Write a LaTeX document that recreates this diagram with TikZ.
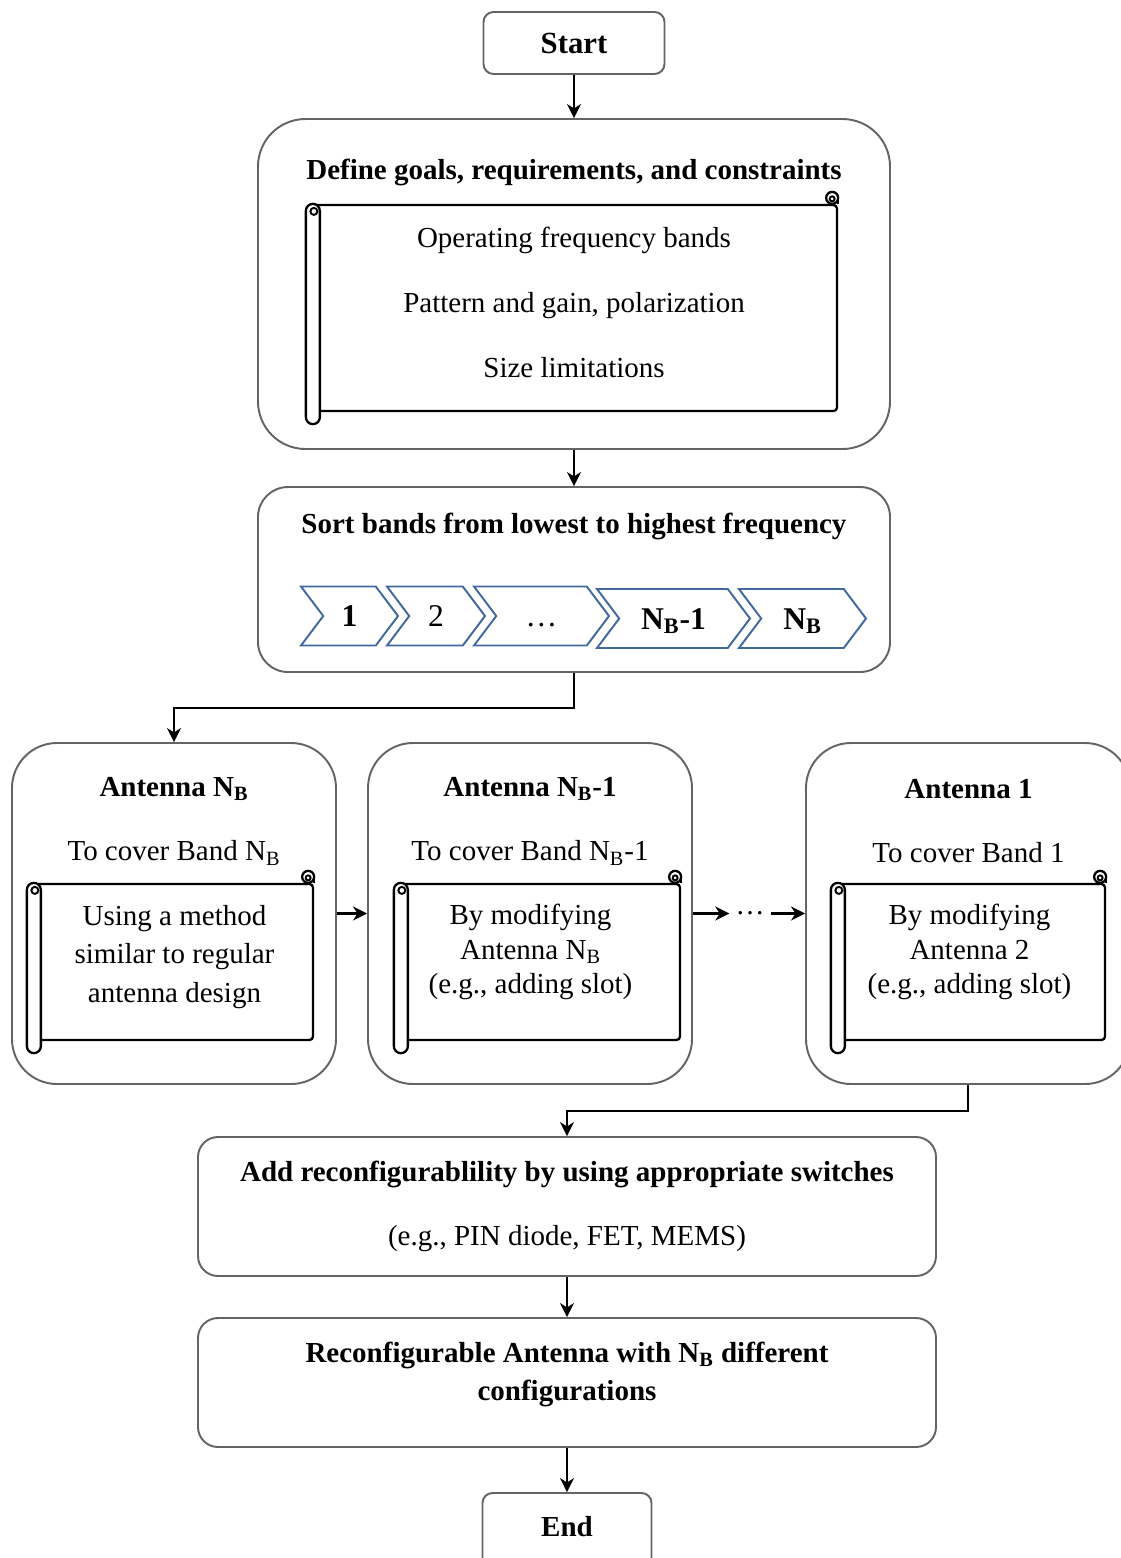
\documentclass[tikz,border=0pt]{standalone}
\usepackage{fontspec}
\setmainfont{Liberation Serif}
\usetikzlibrary{shapes.symbols,arrows.meta,calc}
\definecolor{boxgray}{RGB}{100,100,100}
\definecolor{chevblue}{RGB}{65,105,158}

\tikzset{
  bigbox/.style={draw=boxgray, line width=1.1pt, fill=white, rounded corners=#1},
  scrollbody/.style={draw, line width=1.3pt, rounded corners=2pt},
  chev/.style={signal, signal from=west, signal to=east, signal pointer angle=106,
    draw=chevblue, line width=1.1pt, fill=white, minimum height=1.18cm, inner sep=0pt,
    font=\fontsize{18}{22}\selectfont, text height=12pt, text depth=0pt},
  chevbold/.style={chev, font=\fontsize{18}{22}\selectfont\bfseries},
  arr/.style={-{Stealth[length=8pt,width=8pt]}, line width=1.2pt},
  hd/.style={font=\fontsize{16.5}{22}\selectfont\bfseries},
}
\newcommand{\scrollrolls}[1]{%
  \draw[line width=1.3pt, fill=white, rounded corners=0.14cm]
    ($(#1.north west)+(-0.14,0)$) rectangle ($(#1.south west)+(0.14,-0.24)$);
  \draw[line width=1.1pt] ($(#1.north west)+(0.02,-0.15)$) circle (0.07cm);
  \draw[line width=1.3pt] (#1.north east) -- ++(0,0.12);
  \draw[line width=1.3pt, fill=white] ($(#1.north east)+(-0.12,0.12)$) circle (0.12cm);
  \draw[line width=1.1pt] ($(#1.north east)+(-0.12,0.1)$) circle (0.05cm);
}

\begin{document}
\begin{tikzpicture}[every node/.style={font=\fontsize{16.5}{22}\selectfont}]
\useasboundingbox (0,0) rectangle (22.42,-31.16);

% start and goals
\node[bigbox=0.2cm, minimum width=3.62cm, minimum height=1.24cm, font=\fontsize{17.5}{22}\selectfont\bfseries] (start) at (11.48,-0.86) {Start};

\node[bigbox=0.95cm, minimum width=12.64cm, minimum height=6.60cm] (goals) at (11.48,-5.68) {};
\node[hd] (goalstitle) at (11.48,-3.44) {Define goals, requirements, and constraints};
\node[scrollbody, minimum width=10.46cm, minimum height=4.12cm] (goalscroll) at (11.51,-6.16) {};
\scrollrolls{goalscroll}
\node[align=center] (goalstext) at (11.48,-6.05)
  {Operating frequency bands\\[0.52cm]Pattern and gain, polarization\\[0.52cm]Size limitations};

% sorting the bands
\node[bigbox=0.6cm, minimum width=12.64cm, minimum height=3.70cm] (sort) at (11.48,-11.59) {};
\node[hd] (sorttitle) at (11.48,-10.52) {Sort bands from lowest to highest frequency};
\node[chevbold, minimum width=1.94cm] (band1) at (6.99,-12.32) {1};
\node[chev, minimum width=1.96cm] (band2) at (8.72,-12.32) {2};
\node[chev, minimum width=2.70cm] (band3) at (10.83,-12.32) {\ldots};
\node[chevbold, minimum width=3.06cm] (band4) at (13.47,-12.37) {N\textsubscript{B}-1};
\node[chevbold, minimum width=2.54cm] (band5) at (16.05,-12.37) {N\textsubscript{B}};

% antennas
\node[bigbox=0.9cm, minimum width=6.48cm, minimum height=6.82cm] (antA) at (3.48,-18.27) {};
\node[hd] (antAtitle) at (3.48,-15.78) {Antenna N\textsubscript{B}};
\node (antAband) at (3.48,-17.06) {To cover Band N\textsubscript{B}};
\node[scrollbody, minimum width=5.56cm, minimum height=3.12cm] (scrA) at (3.48,-19.24) {};
\scrollrolls{scrA}
\node[align=center] (scrAtext) at (3.49,-19.14) {Using a method\\similar to regular\\antenna design};

\node[bigbox=0.9cm, minimum width=6.48cm, minimum height=6.82cm] (antB) at (10.60,-18.27) {};
\node[hd] (antBtitle) at (10.60,-15.78) {Antenna N\textsubscript{B}-1};
\node (antBband) at (10.60,-17.06) {To cover Band N\textsubscript{B}-1};
\node[scrollbody, minimum width=5.56cm, minimum height=3.12cm] (scrB) at (10.82,-19.24) {};
\scrollrolls{scrB}
\node[align=center, font=\fontsize{16.5}{19.6}\selectfont] (scrBtext) at (10.61,-19.04)
  {By modifying\\Antenna N\textsubscript{B}\\(e.g., adding slot)};

\node[bigbox=0.9cm, minimum width=6.48cm, minimum height=6.82cm] (antC) at (19.36,-18.27) {};
\node[hd] (antCtitle) at (19.37,-15.78) {Antenna 1};
\node (antCband) at (19.37,-17.06) {To cover Band 1};
\node[scrollbody, minimum width=5.32cm, minimum height=3.12cm] (scrC) at (19.44,-19.24) {};
\scrollrolls{scrC}
\node[align=center, font=\fontsize{16.5}{19.6}\selectfont] (scrCtext) at (19.39,-19.04)
  {By modifying\\Antenna 2\\(e.g., adding slot)};

\node (dots) at (15.0,-18.27) {\ldots};

% switches, result, end
\node[bigbox=0.4cm, minimum width=14.76cm, minimum height=2.78cm] (add) at (11.34,-24.13) {};
\node[hd] (addtitle) at (11.34,-23.48) {Add reconfigurablility by using appropriate switches};
\node (addnote) at (11.34,-24.78) {(e.g., PIN diode, FET, MEMS)};

\node[bigbox=0.4cm, minimum width=14.76cm, minimum height=2.58cm] (reconf) at (11.34,-27.65) {};
\node[hd, align=center] (reconftext) at (11.34,-27.49)
  {Reconfigurable Antenna with N\textsubscript{B} different\\configurations};

\node[bigbox=0.2cm, minimum width=3.38cm, minimum height=1.64cm] (finish) at (11.34,-30.68) {};
\node[hd] (finishtext) at (11.34,-30.54) {End};

% connectors
\draw[arr] (start) -- (goals);
\draw[arr] (goals) -- (sort);
\draw[arr] (sort.south) -- ++(0,-0.7) -| (antA.north);
\draw[arr] (antA) -- (antB);
\draw[arr] (antB) -- (dots);
\draw[arr] (dots) -- (antC);
\draw[arr] (antC.south) -- ++(0,-0.52) -| (add.north);
\draw[arr] (add) -- (reconf);
\draw[arr] (reconf) -- (finish);
\end{tikzpicture}
\end{document}
